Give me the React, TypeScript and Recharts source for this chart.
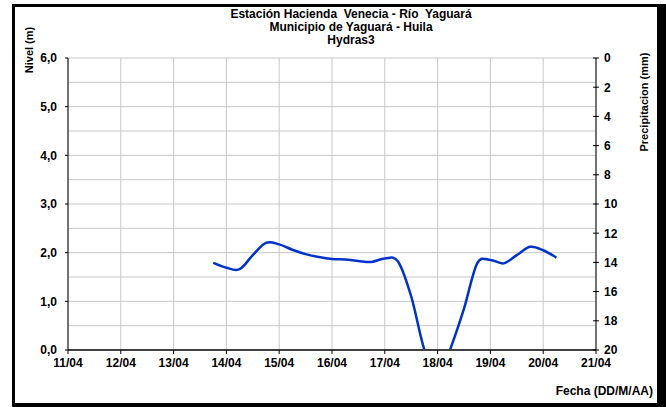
import React from 'react';
import { ComposedChart, Line, Bar, XAxis, YAxis, CartesianGrid } from 'recharts';

const days = [13.75, 14.0, 14.25, 14.5, 14.75, 15.0, 15.25, 15.5, 15.75, 16.0, 16.25, 16.5, 16.75, 17.0, 17.25, 17.5, 17.75, 18.0, 18.25, 18.5, 18.75, 19.0, 19.25, 19.5, 19.75, 20.0, 20.25];
const nivel = [1.79, 1.69, 1.66, 1.95, 2.2, 2.17, 2.06, 1.97, 1.91, 1.87, 1.86, 1.83, 1.81, 1.88, 1.82, 1.1, 0.0, -0.6, 0.05, 0.85, 1.78, 1.85, 1.78, 1.95, 2.12, 2.05, 1.9];
const precip = [0, 0, 0, 0, 0, 0, 0, 0, 0, 0, 0, 0, 0, 0, 0, 0, 0, 0, 0, 0, 0, 0, 0, 0, 0, 0, 0];
const xTicks = [11, 12, 13, 14, 15, 16, 17, 18, 19, 20, 21];
const leftTicks = [0, 0.5, 1, 1.5, 2, 2.5, 3, 3.5, 4, 4.5, 5, 5.5, 6];
const rightTicks = [0, 2, 4, 6, 8, 10, 12, 14, 16, 18, 20];
const titleLines = ['Estación Hacienda  Venecia - Río  Yaguará', 'Municipio de Yaguará - Huila', 'Hydras3'];

const data = days.map((d, i) => ({ day: d, nivel: nivel[i], precip: precip[i] }));

const FONT = '"Liberation Sans", Arial, sans-serif';

// Smooth curve through the points (Catmull-Rom style, like spreadsheet smoothing)
const smoothCurve = (context: any) => {
  let pts: number[][] = [];
  return {
    areaStart() {},
    areaEnd() {},
    lineStart() {
      pts = [];
    },
    point(x: number, y: number) {
      pts.push([+x, +y]);
    },
    lineEnd() {
      const n = pts.length;
      if (!n) return;
      context.moveTo(pts[0][0], pts[0][1]);
      for (let i = 0; i < n - 1; i++) {
        const p0 = pts[i - 1] || pts[i];
        const p1 = pts[i];
        const p2 = pts[i + 1];
        const p3 = pts[i + 2] || p2;
        context.bezierCurveTo(
          p1[0] + (p2[0] - p0[0]) / 6,
          p1[1] + (p2[1] - p0[1]) / 6,
          p2[0] - (p3[0] - p1[0]) / 6,
          p2[1] - (p3[1] - p1[1]) / 6,
          p2[0],
          p2[1]
        );
      }
    },
  };
};

const LeftTick = (props: any) => {
  const { x, y, payload } = props;
  if (!Number.isInteger(payload.value)) return <g />;
  return (
    <g>
      <line x1={x + 8} x2={x + 11} y1={y} y2={y} stroke="#000" strokeWidth={1} />
      <text x={x} y={y} dy="0.36em" textAnchor="end" fontFamily={FONT} fontSize={12} fontWeight="bold" fill="#000">
        {payload.value.toFixed(1).replace('.', ',')}
      </text>
    </g>
  );
};

const RightTick = (props: any) => {
  const { x, y, payload } = props;
  return (
    <g>
      <line x1={x - 11} x2={x - 5} y1={y} y2={y} stroke="#000" strokeWidth={1} />
      <text x={x} y={y} dy="0.36em" textAnchor="start" fontFamily={FONT} fontSize={12} fontWeight="bold" fill="#000">
        {payload.value}
      </text>
    </g>
  );
};

const BottomTick = (props: any) => {
  const { x, y, payload } = props;
  return (
    <text x={x} y={y} dy="0.71em" textAnchor="middle" fontFamily={FONT} fontSize={12} fontWeight="bold" fill="#000">
      {`${payload.value}/04`}
    </text>
  );
};

export default function App() {
  return (
    <div style={{ position: 'absolute', left: 0, top: 0, width: 666, height: 407, background: '#fff', overflow: 'hidden' }}>
      <div
        style={{
          position: 'absolute', left: 12, top: 4, width: 654, height: 403, boxSizing: 'border-box',
          borderLeft: '3px solid #000', borderTop: '3px solid #000', borderRight: '9px solid #000', borderBottom: '4px solid #000',
        }}
      />
      <div style={{ position: 'absolute', left: 0, top: 0 }}>
        <ComposedChart width={666} height={407} data={data} margin={{ top: 58, right: 10, bottom: 27, left: 12 }}>
          <CartesianGrid yAxisId="left" stroke="#c8c8c8" strokeWidth={1} verticalValues={xTicks} />
          <XAxis
            dataKey="day"
            type="number"
            domain={[11, 21]}
            ticks={xTicks}
            interval={0}
            height={30}
            tick={<BottomTick />}
            tickSize={4}
            tickMargin={4}
            axisLine={{ stroke: '#404040', strokeWidth: 2 }}
            tickLine={{ stroke: '#000' }}
          />
          <YAxis
            yAxisId="left"
            orientation="left"
            type="number"
            domain={[0, 6]}
            ticks={leftTicks}
            interval={0}
            allowDataOverflow
            width={56}
            tickSize={0}
            tickMargin={11}
            tick={<LeftTick />}
            axisLine={{ stroke: '#000' }}
            tickLine={false}
          />
          <YAxis
            yAxisId="right"
            orientation="right"
            type="number"
            domain={[0, 20]}
            reversed
            allowDataOverflow
            ticks={rightTicks}
            interval={0}
            width={60}
            tickSize={0}
            tickMargin={8}
            tick={<RightTick />}
            axisLine={{ stroke: '#000' }}
            tickLine={false}
          />
          <Bar yAxisId="right" dataKey="precip" fill="#00ccff" barSize={4} isAnimationActive={false} />
          <Line
            yAxisId="left"
            dataKey="nivel"
            type={smoothCurve as any}
            stroke="#0033cc"
            strokeWidth={2.5}
            dot={false}
            activeDot={false}
            isAnimationActive={false}
          />
        </ComposedChart>
      </div>
      <svg width={666} height={407} style={{ position: 'absolute', left: 0, top: 0, pointerEvents: 'none' }}>
        {titleLines.map((t, i) => (
          <text key={i} x={351} y={18 + i * 13} textAnchor="middle" fontFamily={FONT} fontSize={12} fontWeight="bold" fill="#000" style={{ whiteSpace: 'pre' }}>
            {t}
          </text>
        ))}
        <text x={0} y={0} transform="translate(33,50) rotate(-90)" textAnchor="middle" fontFamily={FONT} fontSize={11} fontWeight="bold" fill="#000">
          Nivel (m)
        </text>
        <text x={0} y={0} transform="translate(648,102) rotate(-90)" textAnchor="middle" fontFamily={FONT} fontSize={11} fontWeight="bold" fill="#000">
          Precipitacion (mm)
        </text>
        <text x={653} y={395} textAnchor="end" fontFamily={FONT} fontSize={12} fontWeight="bold" fill="#000">
          Fecha (DD/M/AA)
        </text>
      </svg>
    </div>
  );
}
